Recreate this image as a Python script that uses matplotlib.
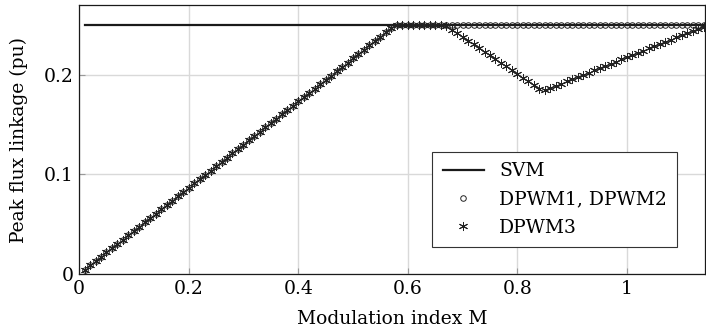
import matplotlib.pyplot as plt
from matplotlib.ticker import FuncFormatter

plt.rcParams['font.family'] = ['DejaVu Serif']

# modulation index samples
M = [round(0.01 * k, 2) for k in range(1, 116)]

# linear range (same for every DPWM method)
rise = [0.0043, 0.0087, 0.0130, 0.0173, 0.0217, 0.0260, 0.0303, 0.0346, 0.0390, 0.0433,
        0.0476, 0.0520, 0.0563, 0.0606, 0.0650, 0.0693, 0.0736, 0.0779, 0.0823, 0.0866,
        0.0909, 0.0953, 0.0996, 0.1039, 0.1083, 0.1126, 0.1169, 0.1212, 0.1256, 0.1299,
        0.1342, 0.1386, 0.1429, 0.1472, 0.1516, 0.1559, 0.1602, 0.1645, 0.1689, 0.1732,
        0.1775, 0.1819, 0.1862, 0.1905, 0.1949, 0.1992, 0.2035, 0.2078, 0.2122, 0.2165,
        0.2208, 0.2252, 0.2295, 0.2338, 0.2382, 0.2425, 0.2468]

dpwm12 = rise + [0.25] * 58

dpwm3 = rise + [0.25] * 9 + [
    0.2490, 0.2453, 0.2416, 0.2379, 0.2342, 0.2305, 0.2268, 0.2231, 0.2194, 0.2157,
    0.2120, 0.2083, 0.2046, 0.2009, 0.1972, 0.1935, 0.1898, 0.1861, 0.1846,
    0.1868, 0.1890, 0.1912, 0.1934, 0.1956, 0.1978, 0.2000, 0.2022, 0.2044, 0.2066,
    0.2088, 0.2110, 0.2132, 0.2154, 0.2176, 0.2198, 0.2220, 0.2242, 0.2264, 0.2286,
    0.2308, 0.2330, 0.2352, 0.2374, 0.2396, 0.2418, 0.2440, 0.2462, 0.2484, 0.2500]

svm_x = [0.011, 1.15]
svm_y = [0.25, 0.25]

fig = plt.figure(figsize=(7.06, 3.33), dpi=100)
ax = fig.add_axes([0.112, 0.177, 0.887, 0.808])

ax.plot(svm_x, svm_y, color='#1a1a1a', lw=1.6, label='SVM')
ax.plot(M, dpwm12, ls='none', marker='o', ms=4.0, mfc='none', mec='#222222',
        mew=0.7, label='DPWM1, DPWM2')
ax.plot(M, dpwm3, ls='none', marker=(6, 2, 0), ms=6.5, mec='#222222',
        mew=0.7, label='DPWM3')

ax.set_xlim(0, 1.143)
ax.set_ylim(0, 0.27)
ax.set_xticks([0, 0.2, 0.4, 0.6, 0.8, 1])
ax.set_yticks([0, 0.1, 0.2])
fmt = FuncFormatter(lambda v, p: '%g' % v)
ax.xaxis.set_major_formatter(fmt)
ax.yaxis.set_major_formatter(fmt)
ax.grid(True, color='#d9d9d9', lw=1.0)
ax.set_axisbelow(True)
ax.tick_params(direction='in', length=4, color='#999999', labelsize=13.5,
               top=False, right=False, pad=4)
for s in ax.spines.values():
    s.set_color('#1a1a1a')
    s.set_linewidth(0.9)

ax.set_xlabel('Modulation index M', fontsize=13.5, labelpad=9)
ax.set_ylabel('Peak flux linkage (pu)', fontsize=13.5, labelpad=11)

leg = ax.legend(loc='lower right', bbox_to_anchor=(0.955, 0.1), fontsize=13.5,
                fancybox=False, framealpha=1, edgecolor='#333333',
                handlelength=2.2, borderpad=0.55, labelspacing=0.55,
                borderaxespad=0)
leg.get_frame().set_linewidth(0.8)

fig.savefig('out.png', dpi=100)
